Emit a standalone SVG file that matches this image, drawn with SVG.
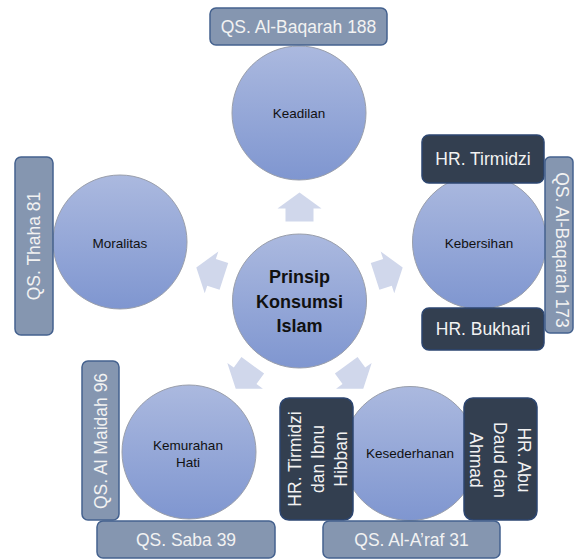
<svg xmlns="http://www.w3.org/2000/svg" width="574" height="559" viewBox="0 0 574 559">
<defs>
<linearGradient id="cg" x1="0" y1="0" x2="0" y2="1">
<stop offset="0" stop-color="#abb9df"/>
<stop offset="1" stop-color="#7f96d0"/>
</linearGradient>
<style>
.c{fill:url(#cg);stroke:#9a9fab;stroke-width:1}
.ct{font-family:"Liberation Sans",Arial,sans-serif;font-size:13.5px;fill:#111;text-anchor:middle}
.cc{font-family:"Liberation Sans",Arial,sans-serif;font-size:18px;font-weight:bold;fill:#111;text-anchor:middle}
.lb{fill:#8596b0;stroke:#44618e;stroke-width:1.5}
.db{fill:#333f50;stroke:#2d4670;stroke-width:1.5}
.bt{font-family:"Liberation Sans",Arial,sans-serif;font-size:17.5px;fill:#f2f2f2;text-anchor:middle}
.ar{fill:#d0d7eb}
</style>
</defs>
<rect width="574" height="559" fill="#ffffff"/>
<g id="connectors">
<polygon class="ar" points="0,-14.5 22,1.5 14,1.5 14,14.5 -14,14.5 -14,1.5 -22,1.5" transform="translate(299.5,301) rotate(0) translate(0,-94)"/>
<polygon class="ar" points="0,-14.5 22,1.5 14,1.5 14,14.5 -14,14.5 -14,1.5 -22,1.5" transform="translate(299.5,301) rotate(72) translate(0,-94)"/>
<polygon class="ar" points="0,-14.5 22,1.5 14,1.5 14,14.5 -14,14.5 -14,1.5 -22,1.5" transform="translate(299.5,301) rotate(144) translate(0,-94)"/>
<polygon class="ar" points="0,-14.5 22,1.5 14,1.5 14,14.5 -14,14.5 -14,1.5 -22,1.5" transform="translate(299.5,301) rotate(216) translate(0,-94)"/>
<polygon class="ar" points="0,-14.5 22,1.5 14,1.5 14,14.5 -14,14.5 -14,1.5 -22,1.5" transform="translate(299.5,301) rotate(288) translate(0,-94)"/>
</g>
<g id="center">
<circle class="c" cx="299.5" cy="301" r="67"/>
<text class="cc" x="299.5" y="283">Prinsip</text>
<text class="cc" x="299.5" y="307.5">Konsumsi</text>
<text class="cc" x="299.5" y="332">Islam</text>
</g>
<g id="keadilan">
<circle class="c" cx="299" cy="113" r="67"/>
<text class="ct" x="299" y="118">Keadilan</text>
</g>
<g id="label-baqarah188">
<rect class="lb" x="210" y="8" width="177" height="37" rx="6"/>
<text class="bt" x="298.5" y="33">QS. Al-Baqarah 188</text>
</g>
<g id="kebersihan">
<circle class="c" cx="479.5" cy="242" r="67"/>
<text class="ct" x="479" y="248">Kebersihan</text>
</g>
<g id="label-tirmidzi">
<rect class="db" x="422" y="135" width="122" height="48" rx="7"/>
<text class="bt" x="483" y="165">HR. Tirmidzi</text>
</g>
<g id="label-bukhari">
<rect class="db" x="422" y="308" width="122" height="42" rx="7"/>
<text class="bt" x="483" y="335">HR. Bukhari</text>
</g>
<g id="label-baqarah173">
<rect class="lb" x="545" y="157" width="28" height="176" rx="5"/>
<text class="bt" transform="translate(562,250) rotate(90)" x="0" y="6">QS. Al-Baqarah 173</text>
</g>
<g id="moralitas">
<circle class="c" cx="120" cy="242" r="67"/>
<text class="ct" x="120" y="248">Moralitas</text>
</g>
<g id="label-thaha">
<rect class="lb" x="15" y="157" width="38" height="178" rx="6"/>
<text class="bt" transform="translate(34,246) rotate(-90)" x="0" y="6">QS. Thaha 81</text>
</g>
<g id="kemurahan">
<circle class="c" cx="189" cy="452" r="67"/>
<text class="ct" x="188" y="450">Kemurahan</text>
<text class="ct" x="188" y="467">Hati</text>
</g>
<g id="label-maidah">
<rect class="lb" x="82" y="361" width="37" height="159" rx="6"/>
<text class="bt" transform="translate(101,441) rotate(-90)" x="0" y="6">QS. Al Maidah 96</text>
</g>
<g id="label-saba">
<rect class="lb" x="97" y="521" width="178" height="37" rx="6"/>
<text class="bt" x="186" y="546">QS. Saba 39</text>
</g>
<g id="kesederhanan">
<circle class="c" cx="410" cy="453.5" r="67"/>
<text class="ct" x="410" y="458">Kesederhanan</text>
</g>
<g id="label-tirmidzi-hibban">
<rect class="db" x="280" y="398" width="73" height="122" rx="9"/>
<g transform="translate(318,459) rotate(-90)">
<text class="bt" x="0" y="-17">HR. Tirmidzi</text>
<text class="bt" x="0" y="6">dan Ibnu</text>
<text class="bt" x="0" y="29">Hibban</text>
</g>
</g>
<g id="label-abudaud">
<rect class="db" x="464" y="398" width="73" height="122" rx="9"/>
<g transform="translate(500,460) rotate(90)">
<text class="bt" x="0" y="-18">HR. Abu</text>
<text class="bt" x="0" y="6">Daud dan</text>
<text class="bt" x="0" y="30">Ahmad</text>
</g>
</g>
<g id="label-araf">
<rect class="lb" x="323" y="521" width="177" height="37" rx="6"/>
<text class="bt" x="411.5" y="546">QS. Al-A’raf 31</text>
</g>
</svg>
